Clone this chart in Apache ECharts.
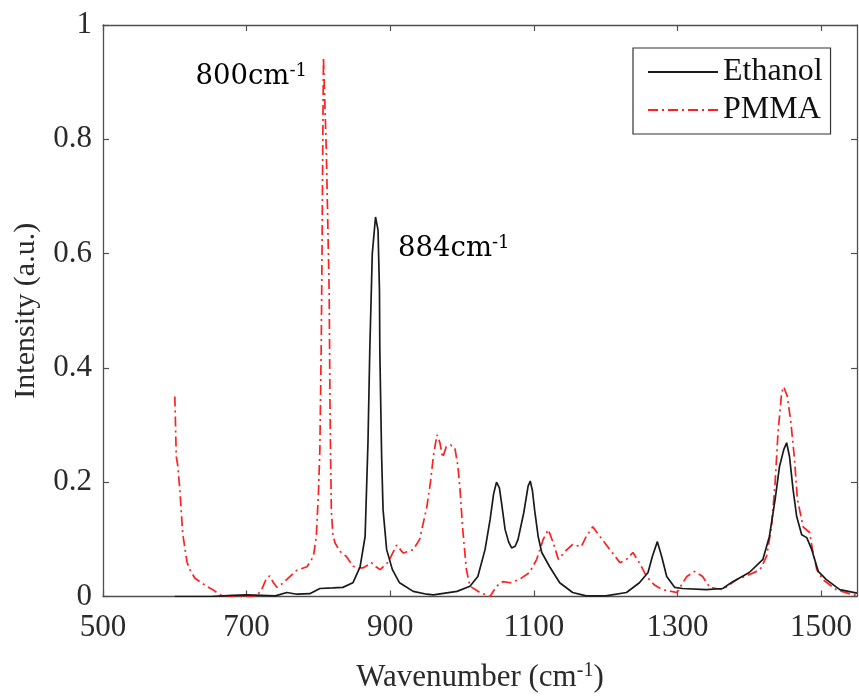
<!DOCTYPE html>
<html>
<head>
<meta charset="utf-8">
<script src="https://cdn.jsdelivr.net/npm/echarts@6/dist/echarts.min.js"></script>
<style>
  html, body { margin: 0; padding: 0; background: #fff; }
  #main { width: 859px; height: 698px; }
</style>
</head>
<body>
<div id="main"></div>
<script>
// 刻度
var xTicks = [500, 700, 900, 1100, 1300, 1500];

// Ethanol 光谱 (黑实线)
var ethanolX = [600, 650, 680, 700, 720, 740, 756, 770, 788, 802, 820, 834, 848, 858, 865, 869, 871.5, 875, 879.5, 883, 885, 885.5, 888, 890, 895, 903, 913, 932, 951, 960, 993, 1011, 1022, 1032, 1039, 1044, 1048, 1052, 1055, 1060, 1065, 1069, 1074, 1078, 1086, 1092, 1095, 1098, 1101, 1106, 1111, 1122, 1136, 1154, 1173, 1200, 1229, 1247, 1259, 1265, 1272, 1278, 1285, 1296, 1307, 1340, 1363, 1377, 1400, 1419, 1428, 1436, 1442, 1448, 1452, 1456, 1461, 1466, 1473, 1480, 1487, 1496, 1507, 1526, 1550];
var ethanolY = [0, 0, 0.002, 0.003, 0.002, 0.001, 0.007, 0.004, 0.005, 0.014, 0.015, 0.016, 0.024, 0.052, 0.105, 0.27, 0.43, 0.6, 0.664, 0.641, 0.536, 0.43, 0.245, 0.152, 0.082, 0.047, 0.024, 0.009, 0.004, 0.003, 0.009, 0.018, 0.035, 0.082, 0.134, 0.18, 0.2, 0.19, 0.164, 0.117, 0.095, 0.085, 0.088, 0.1, 0.147, 0.193, 0.202, 0.185, 0.152, 0.105, 0.077, 0.052, 0.024, 0.007, 0.001, 0.001, 0.007, 0.024, 0.042, 0.07, 0.096, 0.07, 0.035, 0.016, 0.014, 0.012, 0.014, 0.026, 0.042, 0.065, 0.105, 0.17, 0.227, 0.257, 0.269, 0.245, 0.187, 0.14, 0.108, 0.103, 0.082, 0.044, 0.03, 0.012, 0.006];

// PMMA 光谱 (红点划线)
var pmmaX = [600, 601, 602, 604, 607, 611, 617, 621, 628, 635, 644, 653, 662, 668, 700, 715, 722, 727, 732, 737, 742, 749, 756, 770, 784, 793, 797, 800, 802, 804, 805, 806, 807, 811, 815, 816, 817, 818, 820, 823, 830, 839, 848, 856, 862, 874, 880, 886, 897, 909, 918, 932, 941, 948, 951, 956, 960, 965, 969, 973, 978, 984, 990, 994, 997, 1001, 1006, 1011, 1025, 1039, 1048, 1057, 1067, 1080, 1094, 1104, 1113, 1120, 1127, 1134, 1146, 1154, 1166, 1173, 1182, 1192, 1206, 1220, 1229, 1238, 1247, 1257, 1268, 1279, 1299, 1313, 1324, 1335, 1345, 1363, 1383, 1400, 1415, 1424, 1431, 1436, 1440, 1445, 1448, 1453, 1458, 1463, 1467, 1475, 1484, 1488, 1494, 1502, 1521, 1544, 1550];
var pmmaY = [0.35, 0.3, 0.245, 0.23, 0.187, 0.11, 0.06, 0.047, 0.032, 0.026, 0.018, 0.012, 0.004, 0, 0, 0.002, 0.015, 0.03, 0.036, 0.025, 0.016, 0.022, 0.03, 0.046, 0.052, 0.07, 0.105, 0.18, 0.257, 0.45, 0.6, 0.78, 0.944, 0.78, 0.53, 0.35, 0.24, 0.15, 0.11, 0.094, 0.079, 0.07, 0.053, 0.05, 0.05, 0.059, 0.052, 0.047, 0.06, 0.09, 0.076, 0.082, 0.1, 0.14, 0.157, 0.2, 0.245, 0.283, 0.27, 0.243, 0.262, 0.265, 0.26, 0.23, 0.19, 0.117, 0.047, 0.018, 0.007, 0, 0.018, 0.026, 0.024, 0.03, 0.042, 0.065, 0.1, 0.117, 0.094, 0.065, 0.082, 0.091, 0.087, 0.105, 0.122, 0.105, 0.082, 0.059, 0.065, 0.077, 0.059, 0.035, 0.02, 0.012, 0.007, 0.035, 0.044, 0.035, 0.016, 0.012, 0.03, 0.038, 0.047, 0.07, 0.122, 0.2, 0.286, 0.356, 0.367, 0.35, 0.304, 0.24, 0.17, 0.122, 0.112, 0.082, 0.047, 0.03, 0.012, 0.003, 0.002];

// 峰标注
var peakPMMA = [807, 0.944];
var peakEthanol = [879.5, 0.664];

function zip(xs, ys) {
	var res = [];
	for (var i = 0; i < xs.length; i++) res.push([xs[i], ys[i]]);
	return res;
}

var serif = "'Liberation Serif', 'Times New Roman', serif";
var frameColor = '#505050';
var labelColor = '#2a2a2a';
var annotRich = {
	n: { fontFamily: 'DejaVu Serif', fontSize: 27.5, color: '#000', lineHeight: 30 },
	s: { fontFamily: 'DejaVu Serif', fontSize: 18, color: '#000', lineHeight: 30, verticalAlign: 'top' }
};
// 坐标轴文字 (Times 风格)
var axisRich = {
	t: { fontFamily: serif, fontSize: 31, color: labelColor, lineHeight: 34 },
	y: { fontFamily: serif, fontSize: 30, color: labelColor, lineHeight: 34 },
	s: { fontFamily: serif, fontSize: 20, color: labelColor, lineHeight: 34, verticalAlign: 'top' }
};

function tickText(v) { return '{t|' + String(v) + '}'; }

function axisBase() {
	return {
		axisLine: { show: true, onZero: false, lineStyle: { color: frameColor, width: 1.3 } },
		axisTick: { show: true, inside: true, length: 6, lineStyle: { color: frameColor, width: 1.2 } },
		splitLine: { show: false }
	};
}

var chart = echarts.init(document.getElementById('main'));
chart.setOption({
	animation: false,
	backgroundColor: '#fff',
	textStyle: { fontFamily: serif },
	grid: { left: 103, right: 2, top: 25, bottom: 101 },
	legend: {
		orient: 'vertical',
		left: 633, top: 48,
		padding: [5, 8, 5, 14],
		itemGap: 0,
		itemWidth: 70, itemHeight: 2,
		itemStyle: { opacity: 0 },
		borderColor: '#333', borderWidth: 1.2,
		backgroundColor: '#fff',
		textStyle: { fontFamily: serif, fontSize: 32, color: '#111', lineHeight: 38 },
		data: ['Ethanol', 'PMMA']
	},
	xAxis: [
		Object.assign(axisBase(), {
			type: 'value', min: 500, max: 1550, position: 'bottom',
			axisTick: { show: true, inside: true, length: 6, customValues: xTicks, lineStyle: { color: frameColor, width: 1.2 } },
			axisLabel: { customValues: xTicks, formatter: tickText, margin: 14, rich: axisRich },
			name: '{t|Wavenumber (cm}{s|-1}{t|)}',
			nameLocation: 'middle', nameGap: 64,
			nameTextStyle: { rich: axisRich }
		}),
		Object.assign(axisBase(), {
			type: 'value', min: 500, max: 1550, position: 'top',
			axisTick: { show: true, inside: true, length: 6, customValues: xTicks, lineStyle: { color: frameColor, width: 1.2 } },
			axisLabel: { show: false }
		})
	],
	yAxis: [
		Object.assign(axisBase(), {
			type: 'value', min: 0, max: 1, interval: 0.2, position: 'left',
			axisLabel: { formatter: tickText, margin: 11, rich: axisRich },
			name: '{y|Intensity (a.u.)}',
			nameLocation: 'middle', nameGap: 60,
			nameTextStyle: { rich: axisRich }
		}),
		Object.assign(axisBase(), {
			type: 'value', min: 0, max: 1, interval: 0.2, position: 'right',
			axisLabel: { show: false }
		})
	],
	series: [
		{
			name: 'Ethanol',
			type: 'line',
			symbol: 'none',
			color: '#1a1a1a',
			lineStyle: { color: '#1a1a1a', width: 1.7, type: 'solid' },
			data: zip(ethanolX, ethanolY),
			markPoint: {
				symbol: 'circle', symbolSize: 1,
				itemStyle: { color: 'rgba(0,0,0,0)' },
				label: {
					show: true, position: 'right', distance: 0, offset: [22, 32],
					formatter: '{n|884cm}{s|-1}', rich: annotRich
				},
				data: [{ coord: peakEthanol }]
			},
			z: 3
		},
		{
			name: 'PMMA',
			type: 'line',
			symbol: 'none',
			color: '#ff2020',
			lineStyle: { color: '#ff2020', width: 1.7, type: [10, 4, 2, 4] },
			data: zip(pmmaX, pmmaY),
			markPoint: {
				symbol: 'circle', symbolSize: 1,
				itemStyle: { color: 'rgba(0,0,0,0)' },
				label: {
					show: true, position: 'left', distance: 0, offset: [-16, 20],
					formatter: '{n|800cm}{s|-1}', rich: annotRich
				},
				data: [{ coord: peakPMMA }]
			},
			z: 2
		}
	]
});
</script>
</body>
</html>
